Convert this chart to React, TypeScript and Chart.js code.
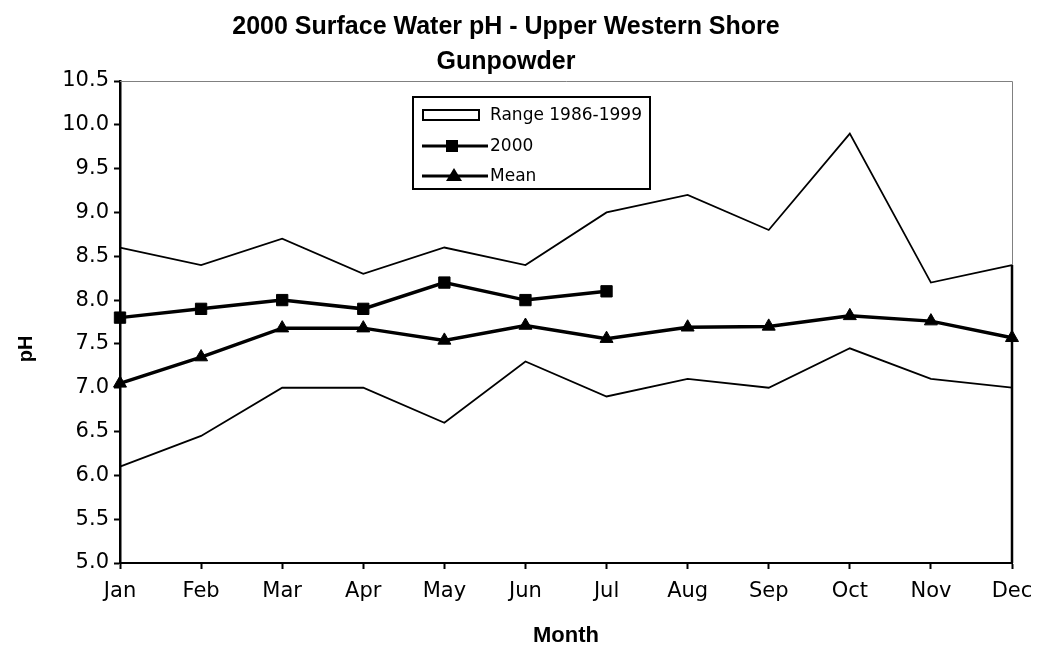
import React, { useEffect, useRef } from 'react';
import { Chart, registerables } from 'chart.js';

Chart.register(...registerables);

const months = ['Jan', 'Feb', 'Mar', 'Apr', 'May', 'Jun', 'Jul', 'Aug', 'Sep', 'Oct', 'Nov', 'Dec'];
const rangeMax = [8.6, 8.4, 8.7, 8.3, 8.6, 8.4, 9.0, 9.2, 8.8, 9.9, 8.2, 8.4];
const rangeMin = [6.1, 6.45, 7.0, 7.0, 6.6, 7.3, 6.9, 7.1, 7.0, 7.45, 7.1, 7.0];
const ph2000 = [7.8, 7.9, 8.0, 7.9, 8.2, 8.0, 8.1];
const meanPh = [7.05, 7.35, 7.68, 7.68, 7.54, 7.71, 7.56, 7.69, 7.7, 7.82, 7.76, 7.57];
const yMin = 5;
const yMax = 10.5;
const yStep = 0.5;
const titleLines = ['2000 Surface Water pH - Upper Western Shore', 'Gunpowder'];
const rangeLabel = 'Range 1986-1999';
const label2000 = '2000';
const meanLabel = 'Mean';
const xTitle = 'Month';
const yTitle = 'pH';

export default function App() {
  const ref = useRef<HTMLCanvasElement>(null);

  useEffect(() => {
    if (!ref.current) return;

    const framePlugin = {
      id: 'frame',
      beforeDatasetsDraw(chart: any) {
        const { ctx, chartArea: a, scales } = chart;
        ctx.save();
        ctx.strokeStyle = '#808080';
        ctx.lineWidth = 1;
        ctx.beginPath();
        ctx.moveTo(a.left, a.top + 0.5);
        ctx.lineTo(a.right + 0.5, a.top + 0.5);
        ctx.lineTo(a.right + 0.5, a.bottom);
        ctx.stroke();
        const yEnd = scales.y.getPixelForValue(rangeMax[rangeMax.length - 1]);
        ctx.strokeStyle = '#000';
        ctx.lineWidth = 2.5;
        ctx.beginPath();
        ctx.moveTo(a.right, yEnd);
        ctx.lineTo(a.right, a.bottom);
        ctx.stroke();
        ctx.restore();
      },
    };

    const legendPlugin = {
      id: 'boxLegend',
      afterDatasetsDraw(chart: any) {
        const { ctx, chartArea: a } = chart;
        const left = a.left + 293;
        const top = a.top + 16;
        const w = 237;
        const h = 92;
        ctx.save();
        ctx.fillStyle = '#fff';
        ctx.fillRect(left, top, w, h);
        ctx.strokeStyle = '#000';
        ctx.lineWidth = 2;
        ctx.strokeRect(left, top, w, h);
        const sx0 = left + 9;
        const sx1 = left + 75;
        const tx = left + 77;
        const rows = [top + 18, top + 49, top + 79];
        // range swatch
        ctx.fillStyle = '#fff';
        ctx.lineWidth = 2;
        ctx.strokeRect(sx0 + 1, rows[0] - 5, 56, 10);
        // 2000 swatch
        ctx.lineWidth = 3;
        ctx.beginPath();
        ctx.moveTo(sx0, rows[1]);
        ctx.lineTo(sx1, rows[1]);
        ctx.stroke();
        ctx.fillStyle = '#000';
        ctx.fillRect(sx0 + 30 - 6, rows[1] - 6, 12, 12);
        // mean swatch
        ctx.beginPath();
        ctx.moveTo(sx0, rows[2]);
        ctx.lineTo(sx1, rows[2]);
        ctx.stroke();
        const cx = sx0 + 32;
        ctx.beginPath();
        ctx.moveTo(cx, rows[2] - 8);
        ctx.lineTo(cx + 8, rows[2] + 5);
        ctx.lineTo(cx - 8, rows[2] + 5);
        ctx.closePath();
        ctx.fill();
        // text
        ctx.fillStyle = '#000';
        ctx.font = '17px "DejaVu Sans"';
        ctx.textAlign = 'left';
        ctx.textBaseline = 'middle';
        ctx.fillText(rangeLabel, tx, rows[0] + 1);
        ctx.fillText(label2000, tx, rows[1] + 1);
        ctx.fillText(meanLabel, tx, rows[2] + 1);
        ctx.restore();
      },
    };

    const yTitlePlugin = {
      id: 'yTitleOffset',
      afterDraw(chart: any) {
        const { ctx, chartArea: a } = chart;
        ctx.save();
        ctx.translate(26, (a.top + a.bottom) / 2 + 27);
        ctx.rotate(-Math.PI / 2);
        ctx.fillStyle = '#000';
        ctx.font = 'bold 20px "Liberation Sans"';
        ctx.textAlign = 'center';
        ctx.textBaseline = 'middle';
        ctx.fillText(yTitle, 0, 0);
        ctx.restore();
      },
    };

    const chart = new Chart(ref.current, {
      type: 'line',
      data: {
        labels: months,
        datasets: [
          {
            label: label2000,
            data: ph2000,
            borderColor: '#000',
            backgroundColor: '#000',
            borderWidth: 3.5,
            pointStyle: 'rect',
            pointRadius: 8,
            pointBorderWidth: 1,
            tension: 0,
          },
          {
            label: meanLabel,
            data: meanPh,
            borderColor: '#000',
            backgroundColor: '#000',
            borderWidth: 3.5,
            pointStyle: 'triangle',
            pointRadius: 7.5,
            pointBorderWidth: 1,
            tension: 0,
          },
          {
            label: rangeLabel,
            data: rangeMax,
            borderColor: '#000',
            borderWidth: 1.8,
            pointRadius: 0,
            tension: 0,
          },
          {
            label: rangeLabel + ' min',
            data: rangeMin,
            borderColor: '#000',
            borderWidth: 1.8,
            pointRadius: 0,
            tension: 0,
          },
        ],
      },
      options: {
        animation: false,
        responsive: true,
        maintainAspectRatio: false,
        layout: { padding: { left: 0, right: 31, top: 0, bottom: 0 } },
        plugins: {
          legend: { display: false },
          tooltip: { enabled: false },
          title: {
            display: true,
            text: titleLines,
            color: '#000',
            font: { family: '"Liberation Sans", Arial, sans-serif', size: 25, weight: 'bold', lineHeight: 1.4 },
            padding: { top: 9.5, bottom: 1.5 },
          },
        },
        scales: {
          x: {
            type: 'category',
            offset: false,
            afterFit(scale: any) {
              scale.height = 88;
            },
            grid: {
              drawOnChartArea: false,
              drawTicks: true,
              tickLength: 6,
              tickWidth: 2,
              tickColor: '#000',
            },
            border: { display: true, color: '#000', width: 2 },
            ticks: {
              color: '#000',
              font: { family: '"DejaVu Sans", sans-serif', size: 21 },
              padding: 10,
              maxRotation: 0,
              autoSkip: false,
            },
            title: {
              display: true,
              text: xTitle,
              color: '#000',
              font: { family: '"Liberation Sans", Arial, sans-serif', size: 22, weight: 'bold', lineHeight: 1.2 },
              padding: { top: 0, bottom: 2 },
            },
          },
          y: {
            min: yMin,
            max: yMax,
            afterFit(scale: any) {
              scale.width = 120;
            },
            grid: {
              drawOnChartArea: false,
              drawTicks: true,
              tickLength: 6,
              tickWidth: 2,
              tickColor: '#000',
            },
            border: { display: true, color: '#000', width: 2.5 },
            ticks: {
              stepSize: yStep,
              color: '#000',
              font: { family: '"DejaVu Sans", sans-serif', size: 21 },
              padding: 5,
              callback: (v: any) => Number(v).toFixed(1),
            },
          },
        },
      },
      plugins: [framePlugin, legendPlugin, yTitlePlugin],
    });

    return () => chart.destroy();
  }, []);

  return (
    <div style={{ position: 'absolute', left: 0, top: 0, width: 1043, height: 651, background: '#fff' }}>
      <canvas ref={ref} />
    </div>
  );
}
